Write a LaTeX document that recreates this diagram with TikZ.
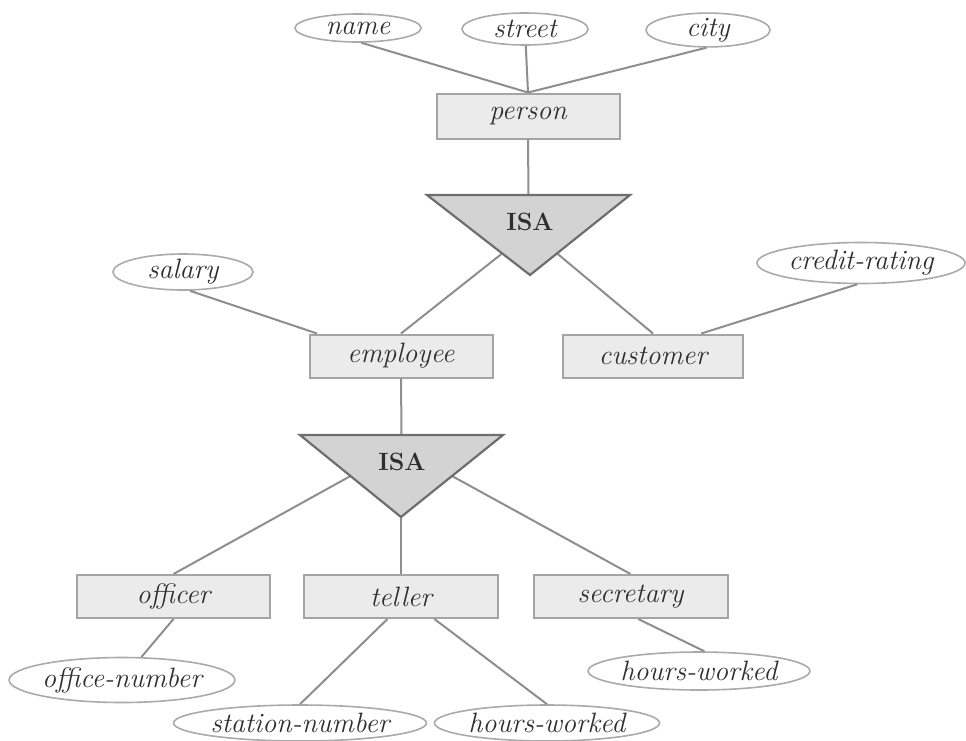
\documentclass[tikz,border=0pt]{standalone}
\usetikzlibrary{shapes.geometric,calc}
\definecolor{boxfill}{HTML}{EBEBEB}
\definecolor{boxline}{HTML}{A4A4A4}
\definecolor{attrline}{HTML}{AAAAAA}
\definecolor{linkcol}{HTML}{8E8E8E}
\definecolor{trifill}{HTML}{D3D3D3}
\definecolor{triline}{HTML}{6E6E6E}
\definecolor{txt}{HTML}{2E2E2E}
\begin{document}
\begin{tikzpicture}[x=1pt,y=-1pt,
  entity/.style={rectangle, draw=boxline, fill=boxfill, line width=2pt,
    minimum width=183pt, minimum height=43pt, inner sep=0pt,
    font=\fontsize{28}{32}\selectfont\itshape, text=txt},
  attr/.style={ellipse, draw=attrline, fill=white, line width=1.6pt,
    inner sep=0pt, font=\fontsize{28}{32}\selectfont\itshape, text=txt},
  link/.style={draw=linkcol, line width=2pt},
  isatri/.style={draw=triline, fill=trifill, line width=2.2pt, line join=miter},
  isalabel/.style={font=\fontsize{25}{30}\selectfont\bfseries, text=txt}]
\useasboundingbox (0,0) rectangle (966,740);

% attributes of person
\node[attr, minimum width=126pt, minimum height=28pt] (name) at (358,28) {name};
\node[attr, minimum width=126pt, minimum height=32pt] (street) at (525,29) {street};
\node[attr, minimum width=124pt, minimum height=32pt] (city) at (708,30) {city};
\node[entity, minimum height=45pt] (person) at (528,116) {person};

% first specialization
\coordinate (i1l) at (427,195);
\coordinate (i1r) at (630,195);
\coordinate (i1b) at (530,275);
\coordinate (i1t) at ($(i1l)!0.5!(i1r)$);
\coordinate (i1lo) at ($(i1l)!0.73!(i1b)$);
\coordinate (i1ro) at ($(i1r)!0.73!(i1b)$);

\node[entity] (employee) at (401,356) {employee};
\node[entity, minimum width=180pt] (customer) at (653,356) {customer};
\node[attr, minimum width=140pt, minimum height=36pt] (salary) at (183,272) {salary};
\node[attr, minimum width=208pt, minimum height=41pt] (credit) at (861,263) {credit-rating};

% second specialization
\coordinate (i2l) at (300,435);
\coordinate (i2r) at (503,435);
\coordinate (i2b) at (401,517);
\coordinate (i2t) at ($(i2l)!0.5!(i2r)$);
\coordinate (i2lo) at ($(i2l)!0.5!(i2b)$);
\coordinate (i2ro) at ($(i2r)!0.5!(i2b)$);

\node[entity, minimum width=193pt] (officer) at (173.5,596.5) {officer};
\node[entity, minimum width=194pt] (teller) at (401,596.5) {teller};
\node[entity, minimum width=194pt] (secretary) at (630.5,596.5) {secretary};

\node[attr, minimum width=220pt, minimum height=45pt] (officenumber) at (122,680) {office-number};
\node[attr, minimum width=224pt, minimum height=36pt] (stationnumber) at (300,723) {station-number};
\node[attr, minimum width=225pt, minimum height=36pt] (tellerhours) at (547,723) {hours-worked};
\node[attr, minimum width=202pt, minimum height=38pt] (secretaryhours) at (699,671) {hours-worked};

% connectors
\draw[link] (name.283) -- (person.north);
\draw[link] (street) -- (person.north);
\draw[link] (city.265) -- (person.north);
\draw[link] (person.south) -- (i1t);
\draw[link] (i1lo) -- (employee.north);
\draw[link] (i1ro) -- (customer.north);
\draw[link] (salary.290) -- (employee.165);
\draw[link] (credit.260) -- (customer.25);
\draw[link] (employee.south) -- (i2t);
\draw[link] (i2lo) -- (officer.north);
\draw[link] (i2b) -- (teller.north);
\draw[link] (i2ro) -- (secretary.north);
\draw[link] (officer.south) -- (officenumber);
\draw[link] (teller.239) -- (stationnumber.north);
\draw[link] (teller.326) -- (tellerhours.north);
\draw[link] (secretary.289) -- (secretaryhours.75);

% ISA triangles
\draw[isatri] (i1l) -- (i1r) -- (i1b) -- cycle;
\node[isalabel] (isa1) at (530,222) {ISA};
\draw[isatri] (i2l) -- (i2r) -- (i2b) -- cycle;
\node[isalabel] (isa2) at (402,462) {ISA};
\end{tikzpicture}
\end{document}
